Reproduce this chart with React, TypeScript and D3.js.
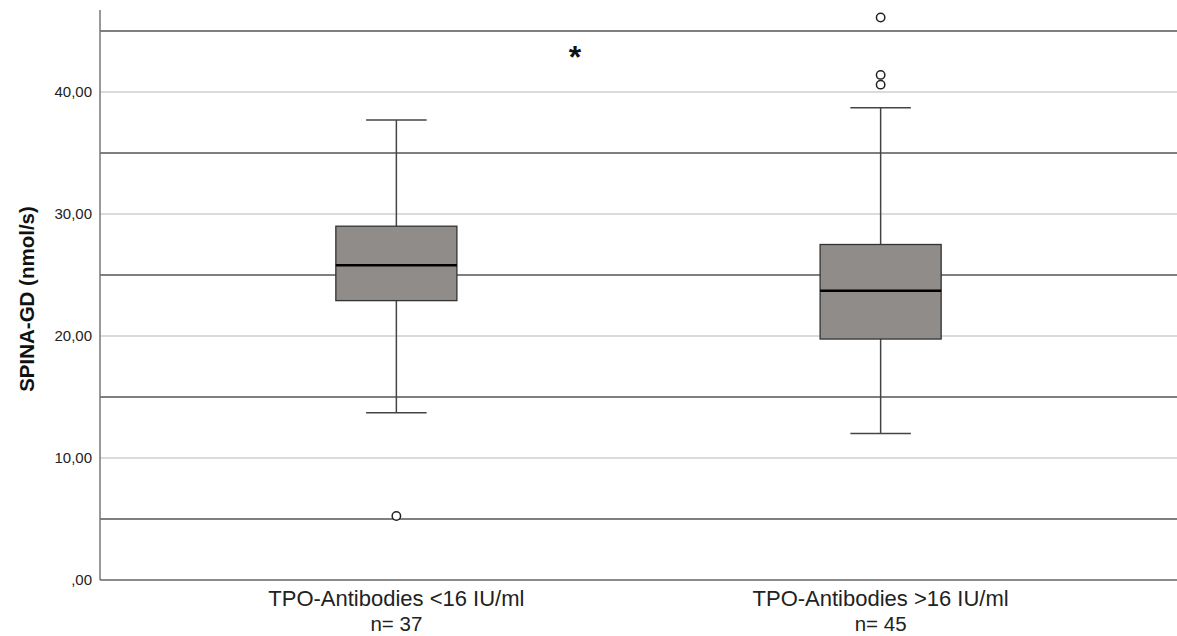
import React from "react";
import * as d3 from "d3";

const categories = ["TPO-Antibodies <16 IU/ml", "TPO-Antibodies >16 IU/ml"];
const counts = [37, 45];
const q1 = [22.9, 19.75];
const medians = [25.8, 23.7];
const q3 = [29.0, 27.5];
const whiskerLow = [13.7, 12.0];
const whiskerHigh = [37.7, 38.7];
const outliers = [[5.25], [46.1, 41.4, 40.6]];
const tickValues = [0, 10, 20, 30, 40];
const refLines = [5, 15, 25, 35, 45];
const tickLabels = [",00", "10,00", "20,00", "30,00", "40,00"];

const W = 1177;
const H = 636;
const left = 100;
const top = 10;
const bottom = 580;

export default function App() {
  const y = d3.scaleLinear().domain([0, 46.72]).range([bottom, top]);
  const x = d3.scalePoint<string>().domain(categories).range([left, W]).padding(0.612);
  const step = x.step();
  const boxW = step * 0.25;
  const capW = boxW / 2;
  const font = "Liberation Sans, Arial, sans-serif";

  return (
    <svg width={W} height={H} style={{ position: "absolute", left: 0, top: 0, background: "#fff" }}>
      {tickValues.slice(1).map((t) => (
        <line key={"g" + t} x1={left} x2={W} y1={y(t)} y2={y(t)} stroke="#cfcfcf" strokeWidth={1.5} />
      ))}
      {refLines.map((t) => (
        <line key={"r" + t} x1={left} x2={W} y1={y(t)} y2={y(t)} stroke="#555" strokeWidth={1.6} />
      ))}
      <line x1={left} x2={left} y1={top} y2={bottom} stroke="#777" strokeWidth={1.5} />
      <line x1={left} x2={W} y1={bottom} y2={bottom} stroke="#666" strokeWidth={1.5} />
      {tickValues.map((t, i) => (
        <text key={"t" + t} x={92} y={y(t) + 5} textAnchor="end" fontFamily={font} fontSize={15} fill="#222">
          {tickLabels[i]}
        </text>
      ))}
      <text
        transform={`translate(26,${299}) rotate(-90)`}
        textAnchor="middle"
        dominantBaseline="central"
        fontFamily={font}
        fontWeight="bold"
        fontSize={20.5}
        fill="#111"
      >
        SPINA-GD (nmol/s)
      </text>
      {categories.map((c, i) => {
        const cx = x(c)!;
        return (
          <g key={c}>
            <line x1={cx} x2={cx} y1={y(whiskerHigh[i])} y2={y(q3[i])} stroke="#444" strokeWidth={1.5} />
            <line x1={cx} x2={cx} y1={y(q1[i])} y2={y(whiskerLow[i])} stroke="#444" strokeWidth={1.5} />
            <line x1={cx - capW / 2} x2={cx + capW / 2} y1={y(whiskerHigh[i])} y2={y(whiskerHigh[i])} stroke="#444" strokeWidth={1.5} />
            <line x1={cx - capW / 2} x2={cx + capW / 2} y1={y(whiskerLow[i])} y2={y(whiskerLow[i])} stroke="#444" strokeWidth={1.5} />
            <rect
              x={cx - boxW / 2}
              y={y(q3[i])}
              width={boxW}
              height={y(q1[i]) - y(q3[i])}
              fill="#908c8a"
              stroke="#333"
              strokeWidth={1.3}
            />
            <line x1={cx - boxW / 2} x2={cx + boxW / 2} y1={y(medians[i])} y2={y(medians[i])} stroke="#000" strokeWidth={2.5} />
            {outliers[i].map((o, j) => (
              <circle key={j} cx={cx} cy={y(o)} r={4.2} fill="#fff" stroke="#222" strokeWidth={1.5} />
            ))}
            <text x={cx} y={606} textAnchor="middle" fontFamily={font} fontSize={22} fill="#222">
              {c}
            </text>
            <text x={cx} y={631} textAnchor="middle" fontFamily={font} fontSize={20.5} fill="#222">
              {`n= ${counts[i]}`}
            </text>
          </g>
        );
      })}
      <text x={575} y={68} textAnchor="middle" fontFamily={font} fontWeight="bold" fontSize={32} fill="#111">
        *
      </text>
    </svg>
  );
}
